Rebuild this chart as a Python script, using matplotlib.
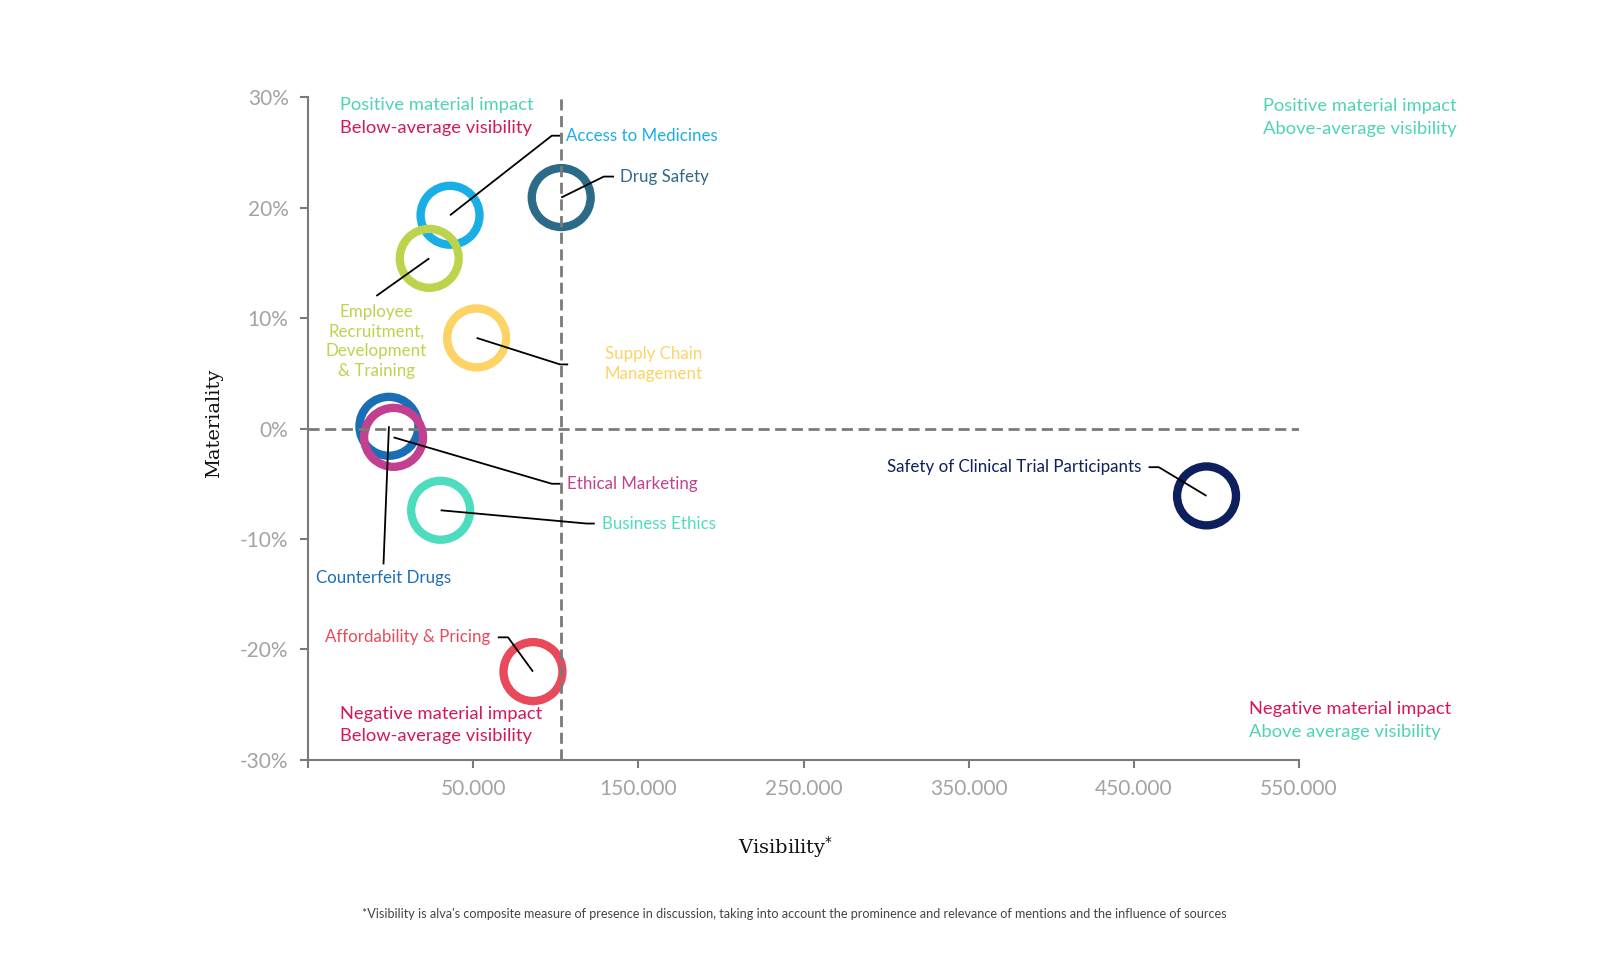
import matplotlib
matplotlib.use('Agg')
from matplotlib import pyplot as plt

# data
topics = ['Access to Medicines', 'Drug Safety',
          'Employee\nRecruitment,\nDevelopment\n& Training',
          'Supply Chain\nManagement', 'Counterfeit Drugs', 'Ethical Marketing',
          'Business Ethics', 'Affordability & Pricing',
          'Safety of Clinical Trial Participants']
visibility = [36000, 103300, 23400, 52100, -1000, 1800, 30300, 86200, 494000]
materiality = [19.3, 20.9, 15.4, 8.2, 0.2, -0.8, -7.4, -22.0, -6.1]
colors = ['#1aaee6', '#2c6b88', '#bcd34c', '#fdd365', '#1b6db6', '#c2408f',
          '#4edcbe', '#e84a5b', '#0d1f5c']

avg_visibility = 103000
xticks = [-50000, 50000, 150000, 250000, 350000, 450000, 550000]
xtick_labels = ['', '50.000', '150.000', '250.000', '350.000', '450.000', '550.000']
yticks = [-30, -20, -10, 0, 10, 20, 30]

# label layout: leader kink, leader end, text anchor, alignment
kinks = [(97600, 26.5), (129100, 22.8), (-8600, 12.0), (102600, 5.8),
         (-4300, -12.3), (97600, -5.0), (118600, -8.6), (71100, -18.9),
         (465100, -3.5)]
ends = [(102600, 26.5), (135300, 22.8), (-8600, 12.0), (107500, 5.8),
        (-4300, -12.3), (102600, -5.0), (123600, -8.6), (64900, -18.9),
        (458900, -3.5)]
text_pos = [(106300, 26.5), (139000, 22.8), (-8600, 11.3), (129700, 5.8),
            (-4300, -13.5), (106900, -5.0), (127900, -8.6), (60600, -18.9),
            (454600, -3.5)]
text_ha = ['left', 'left', 'center', 'left', 'center', 'left', 'left',
           'right', 'right']
text_va = ['center', 'center', 'top', 'center', 'center', 'center', 'center',
           'center', 'center']

TEAL = '#4fd3b6'
CRIMSON = '#d5175c'
GRAY = '#a3a3a3'

plt.rcParams['font.family'] = ['Lato', 'DejaVu Sans']

fig = plt.figure(figsize=(16, 9.8), dpi=100)
ax = fig.add_axes([0.1925, 0.2245, 0.6194, 0.6765])

ax.scatter(visibility, materiality, s=1800, facecolors='none',
           edgecolors=colors, linewidths=6, zorder=2)

ax.axhline(0, color='#7a7a7a', lw=2, ls=(0, (4, 2)), zorder=3)
ax.axvline(avg_visibility, color='#7a7a7a', lw=2, ls=(0, (4, 2)), zorder=3)

for i in range(len(topics)):
    xs = [visibility[i], kinks[i][0], ends[i][0]]
    ys = [materiality[i], kinks[i][1], ends[i][1]]
    ax.plot(xs, ys, color='black', lw=1.3, zorder=4, solid_capstyle='butt')
    ax.text(text_pos[i][0], text_pos[i][1], topics[i], color=colors[i],
            fontsize=12.2, ha=text_ha[i], va=text_va[i], linespacing=1.3,
            multialignment='center' if text_ha[i] == 'center' else 'left',
            zorder=5)

ax.set_xlim(-50000, 550000)
ax.set_ylim(-30, 30)
ax.set_xticks(xticks)
ax.set_xticklabels(xtick_labels)
ax.set_yticks(yticks)
ax.set_yticklabels(['%d%%' % v for v in yticks])
ax.tick_params(axis='both', colors='#7a7a7a', labelcolor=GRAY, labelsize=15,
               length=6, width=1.5)
ax.tick_params(axis='x', pad=8)
ax.tick_params(axis='y', pad=8)
for side in ['top', 'right']:
    ax.spines[side].set_visible(False)
for side in ['left', 'bottom']:
    ax.spines[side].set_color('#7a7a7a')
    ax.spines[side].set_linewidth(1.5)

# quadrant notes
def note(px, py, line1, c1, line2, c2):
    fig.text(px / 1568, 1 - py / 960, line1, color=c1, fontsize=13.2,
             ha='left', va='center')
    fig.text(px / 1568, 1 - (py + 22) / 960, line2, color=c2, fontsize=13.2,
             ha='left', va='center')

note(333, 103, 'Positive material impact', TEAL, 'Below-average visibility', CRIMSON)
note(1238, 104, 'Positive material impact', TEAL, 'Above-average visibility', TEAL)
note(333, 699, 'Negative material impact', CRIMSON, 'Below-average visibility', CRIMSON)
note(1224, 695, 'Negative material impact', CRIMSON, 'Above average visibility', TEAL)

fig.text(210 / 1568, 1 - 415 / 960, 'Materiality', rotation=90, fontsize=14,
         family='DejaVu Serif', ha='center', va='center', color='#111111')
fig.text(770 / 1568, 1 - 830 / 960, 'Visibility$^{*}$', fontsize=14,
         family='DejaVu Serif', ha='center', va='center', color='#111111')
fig.text(778 / 1568, 1 - 895 / 960,
         "*Visibility is alva's composite measure of presence in discussion, "
         "taking into account the prominence and relevance of mentions and the "
         "influence of sources", fontsize=9.1, ha='center', va='center',
         color='#444444')

fig.savefig('out.png', dpi=100, facecolor='white')
